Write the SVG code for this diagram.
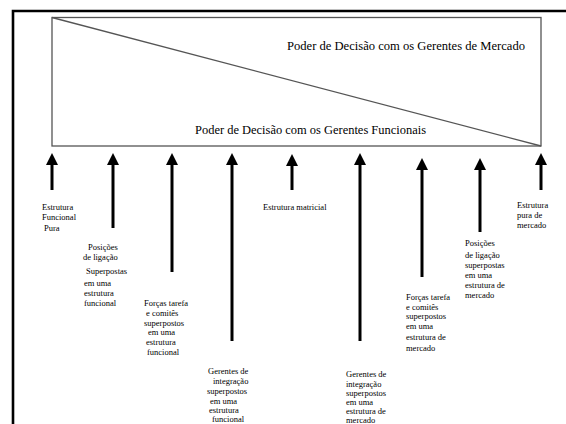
<svg xmlns="http://www.w3.org/2000/svg" width="566" height="424" viewBox="0 0 566 424">
<style>
.frame{fill:none;stroke:#000;stroke-width:2.6}
.box{fill:none;stroke:#555;stroke-width:1.3}
.shaft{stroke:#000;stroke-width:3;fill:none}
.big{font-family:"Liberation Serif","Times New Roman",serif;font-size:13px;fill:#000}
.lbl text{font-family:"Liberation Serif","Times New Roman",serif;font-size:8.5px;fill:#000}
</style>
<defs>
<marker id="ah" viewBox="0 0 12 12" refX="2" refY="6" markerWidth="12" markerHeight="12" markerUnits="userSpaceOnUse" orient="auto">
<path d="M0,0 L12,6 L0,12 z" fill="#000"/>
</marker>
</defs>
<rect width="566" height="424" fill="#fff"/>
<path class="frame" d="M13,426 V11 H568"/>
<g id="power-box">
<rect class="box" x="52" y="17.5" width="489" height="128.5"/>
<line class="box" x1="52" y1="17.5" x2="541" y2="146"/>
<text class="big" x="287" y="50" textLength="238" lengthAdjust="spacingAndGlyphs">Poder de Decisão com os Gerentes de Mercado</text>
<text class="big" x="195" y="133.5" textLength="231" lengthAdjust="spacingAndGlyphs">Poder de Decisão com os Gerentes Funcionais</text>
</g>
<g id="connectors">
<line class="shaft" x1="52" y1="190" x2="52" y2="163" marker-end="url(#ah)"/>
<line class="shaft" x1="113" y1="228" x2="113" y2="163" marker-end="url(#ah)"/>
<line class="shaft" x1="172" y1="272" x2="172" y2="163" marker-end="url(#ah)"/>
<line class="shaft" x1="232" y1="341" x2="232" y2="163" marker-end="url(#ah)"/>
<line class="shaft" x1="292" y1="190" x2="292" y2="164" marker-end="url(#ah)"/>
<line class="shaft" x1="360" y1="341" x2="360" y2="163" marker-end="url(#ah)"/>
<line class="shaft" x1="422" y1="277" x2="422" y2="168" marker-end="url(#ah)"/>
<line class="shaft" x1="480" y1="232" x2="480" y2="168" marker-end="url(#ah)"/>
<line class="shaft" x1="541" y1="190" x2="541" y2="163" marker-end="url(#ah)"/>
</g>
<g id="n1" class="lbl">
<text x="42" y="210">Estrutura</text>
<text x="42" y="220">Funcional</text>
<text x="44" y="231">Pura</text>
</g>
<g id="n2" class="lbl">
<text x="88" y="250">Posições</text>
<text x="83" y="260">de ligação</text>
<text x="86" y="274">Superpostas</text>
<text x="84" y="286">em uma</text>
<text x="84" y="296">estrutura</text>
<text x="84" y="306">funcional</text>
</g>
<g id="n3" class="lbl">
<text x="144" y="306">Forças  tarefa</text>
<text x="146" y="316">e comitês</text>
<text x="144" y="326">superpostos</text>
<text x="148" y="335">em uma</text>
<text x="146" y="345">estrutura</text>
<text x="147" y="355">funcional</text>
</g>
<g id="n4" class="lbl">
<text x="208" y="374">Gerentes de</text>
<text x="213" y="384">integração</text>
<text x="207" y="394">superpostos</text>
<text x="210" y="403.5">em uma</text>
<text x="209" y="413">estrutura</text>
<text x="212" y="422">funcional</text>
</g>
<g id="n6" class="lbl">
<text x="346" y="377">Gerentes de</text>
<text x="346" y="386.5">integração</text>
<text x="346" y="396">superpostos</text>
<text x="346" y="405">em uma</text>
<text x="346" y="414">estrutura de</text>
<text x="346" y="422.5">mercado</text>
</g>
<g id="n5" class="lbl">
<text x="263" y="210">Estrutura matricial</text>
</g>
<g id="n7" class="lbl">
<text x="406" y="300">Forças tarefa</text>
<text x="406" y="310">e comitês</text>
<text x="406" y="319">superpostos</text>
<text x="406" y="329">em uma</text>
<text x="406" y="340">estrutura de</text>
<text x="406" y="351">mercado</text>
</g>
<g id="n8" class="lbl">
<text x="465" y="246">Posições</text>
<text x="465" y="258">de ligação</text>
<text x="465" y="268">superpostas</text>
<text x="465" y="278">em uma</text>
<text x="465" y="288">estrutura de</text>
<text x="465" y="298">mercado</text>
</g>
<g id="n9" class="lbl">
<text x="517" y="208">Estrutura</text>
<text x="517" y="218">pura de</text>
<text x="517" y="228">mercado</text>
</g>
</svg>
